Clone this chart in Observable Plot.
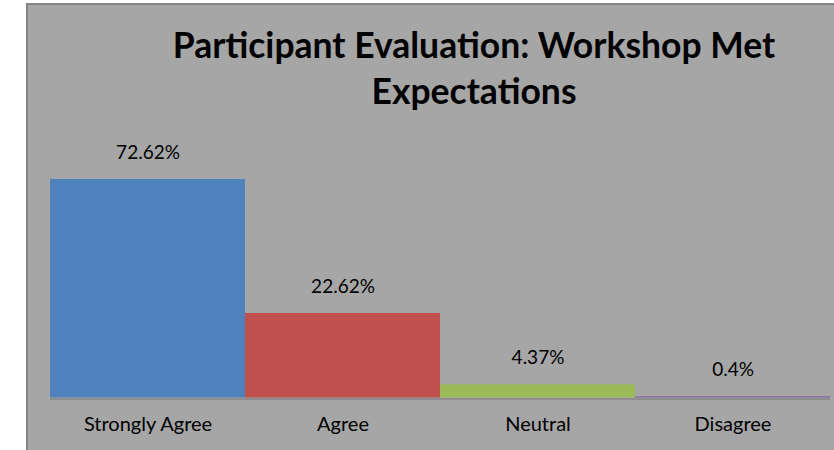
<!DOCTYPE html>
<html><head><meta charset="utf-8">
<script src="https://cdn.jsdelivr.net/npm/d3@7"></script>
<script src="https://cdn.jsdelivr.net/npm/@observablehq/plot@0.6"></script>
<style>
html,body{margin:0;padding:0;background:#fff;width:834px;height:450px;overflow:hidden;position:relative;font-family:Lato,sans-serif}
#panel{position:absolute;left:26px;top:3px;width:806px;height:445px;background:#a6a6a6;border-left:2px solid #848484;border-top:2px solid #848484}
#chart{position:absolute;left:0;top:0}
#title{position:absolute;left:74px;width:800px;top:22px;text-align:center;font:bold 35.5px/46px Lato,sans-serif;color:#000}
</style></head>
<body>
<div id="panel"></div>
<div id="chart"></div>
<div id="title">Participant Evaluation: Workshop Met<br>Expectations</div>
<script>
const categories = ["Strongly Agree", "Agree", "Neutral", "Disagree"];
// bar heights as drawn in the reference (the Agree bar is drawn taller than its label)
const values = [72.62, 28.1, 4.37, 0.4];
const labels = ["72.62%", "22.62%", "4.37%", "0.4%"];
const colors = ["#4f81bd", "#c0504d", "#9bbb59", "#8064a2"];

const data = categories.map((c, i) => ({category: c, value: values[i], label: labels[i], color: colors[i]}));

const chart = Plot.plot({
  width: 834,
  height: 450,
  marginLeft: 50,
  marginRight: 4,
  marginTop: 156.8,
  marginBottom: 52.5,
  x: {domain: categories, padding: 0},
  y: {domain: [0, 80], axis: null},
  style: {background: "transparent", fontFamily: "Lato, sans-serif", fontSize: "20px", color: "#000", overflow: "visible"},
  marks: [
    Plot.ruleY([0], {stroke: "#858585", strokeWidth: 1.5, dy: 1}),
    Plot.barY(data, {x: "category", y: "value", fill: "color", inset: 0}),
    Plot.text(data, {x: "category", y: "value", text: "label", dy: -27, fill: "#000", fontSize: 19}),
    Plot.axisX({tickSize: 0, tickPadding: 19, fontSize: 20, label: null})
  ]
});
document.getElementById("chart").appendChild(chart);
</script>
</body></html>
